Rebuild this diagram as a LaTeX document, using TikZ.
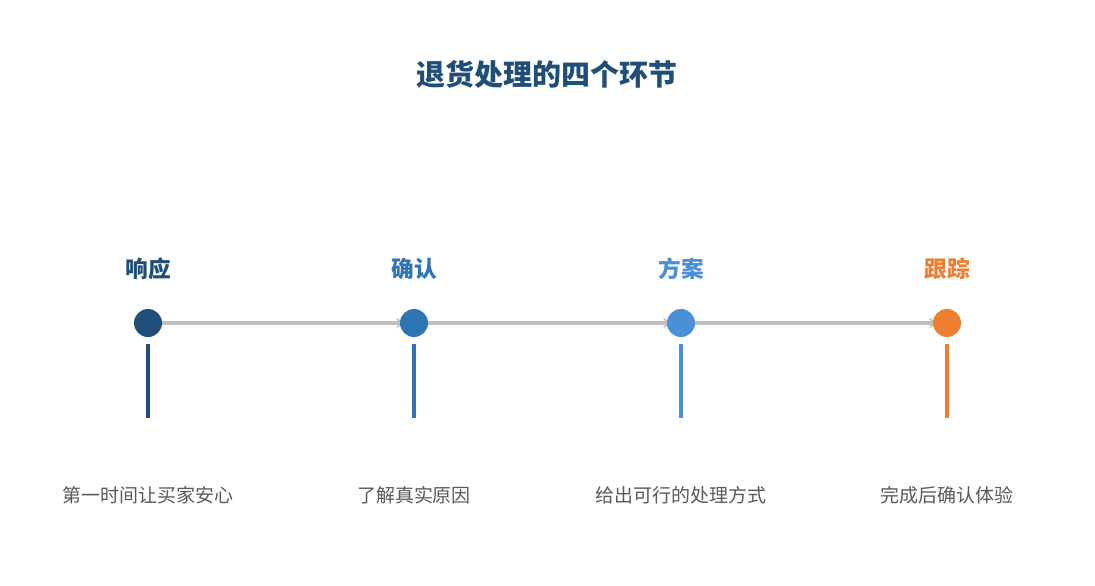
\documentclass[tikz,border=0pt]{standalone}
\usepackage{fontspec}
\setmainfont{Noto Sans CJK SC}
\usetikzlibrary{positioning,arrows.meta,backgrounds}
\definecolor{stepA}{HTML}{1F4E79}
\definecolor{stepB}{HTML}{2E75B6}
\definecolor{stepC}{HTML}{4A90D9}
\definecolor{stepD}{HTML}{ED7D31}
\definecolor{linegray}{HTML}{BFBFBF}
\definecolor{textgray}{HTML}{595959}
\begin{document}
\begin{tikzpicture}[x=0.02cm, y=-0.02cm]
    \tikzstyle{dot} = [circle, inner sep=0pt, minimum size=28*0.02cm]
    \tikzstyle{steplabel} = [font=\fontsize{12.9}{15}\selectfont\bfseries]
    \tikzstyle{desc} = [font=\fontsize{10.8}{13}\selectfont, text=textgray]
    \tikzstyle{stem} = [line width=2.2pt]
    \tikzstyle{flow} = [draw=linegray, line width=2pt, -{Stealth[length=5pt, width=6pt]}, shorten >=-3pt]

    \useasboundingbox (0,0) rectangle (1095,585);

    % Title
    \node[font=\fontsize{16.5}{19}\selectfont\bfseries, text=stepA] (title) at (547,74) {退货处理的四个环节};

    % Steps
    \foreach \i/\x/\col/\lab/\txt in {1/148/stepA/响应/第一时间让买家安心,
                                       2/414/stepB/确认/了解真实原因,
                                       3/681/stepC/方案/给出可行的处理方式,
                                       4/947/stepD/跟踪/完成后确认体验} {
        \node[dot, fill=\col] (c\i) at (\x,323) {};
        \node[steplabel, text=\col] (l\i) at (\x,269) {\lab};
        \coordinate (s\i) at (\x,344);
        \coordinate (e\i) at (\x,418);
        \draw[stem, draw=\col] (s\i) -- (e\i);
        \node[desc] (d\i) at (\x,495) {\txt};
    }

    % Arrows between the dots
    \begin{pgfonlayer}{background}
    \foreach \a/\b in {1/2, 2/3, 3/4} {
        \draw[flow] (c\a) -- (c\b);
    }
    \end{pgfonlayer}
\end{tikzpicture}
\end{document}
